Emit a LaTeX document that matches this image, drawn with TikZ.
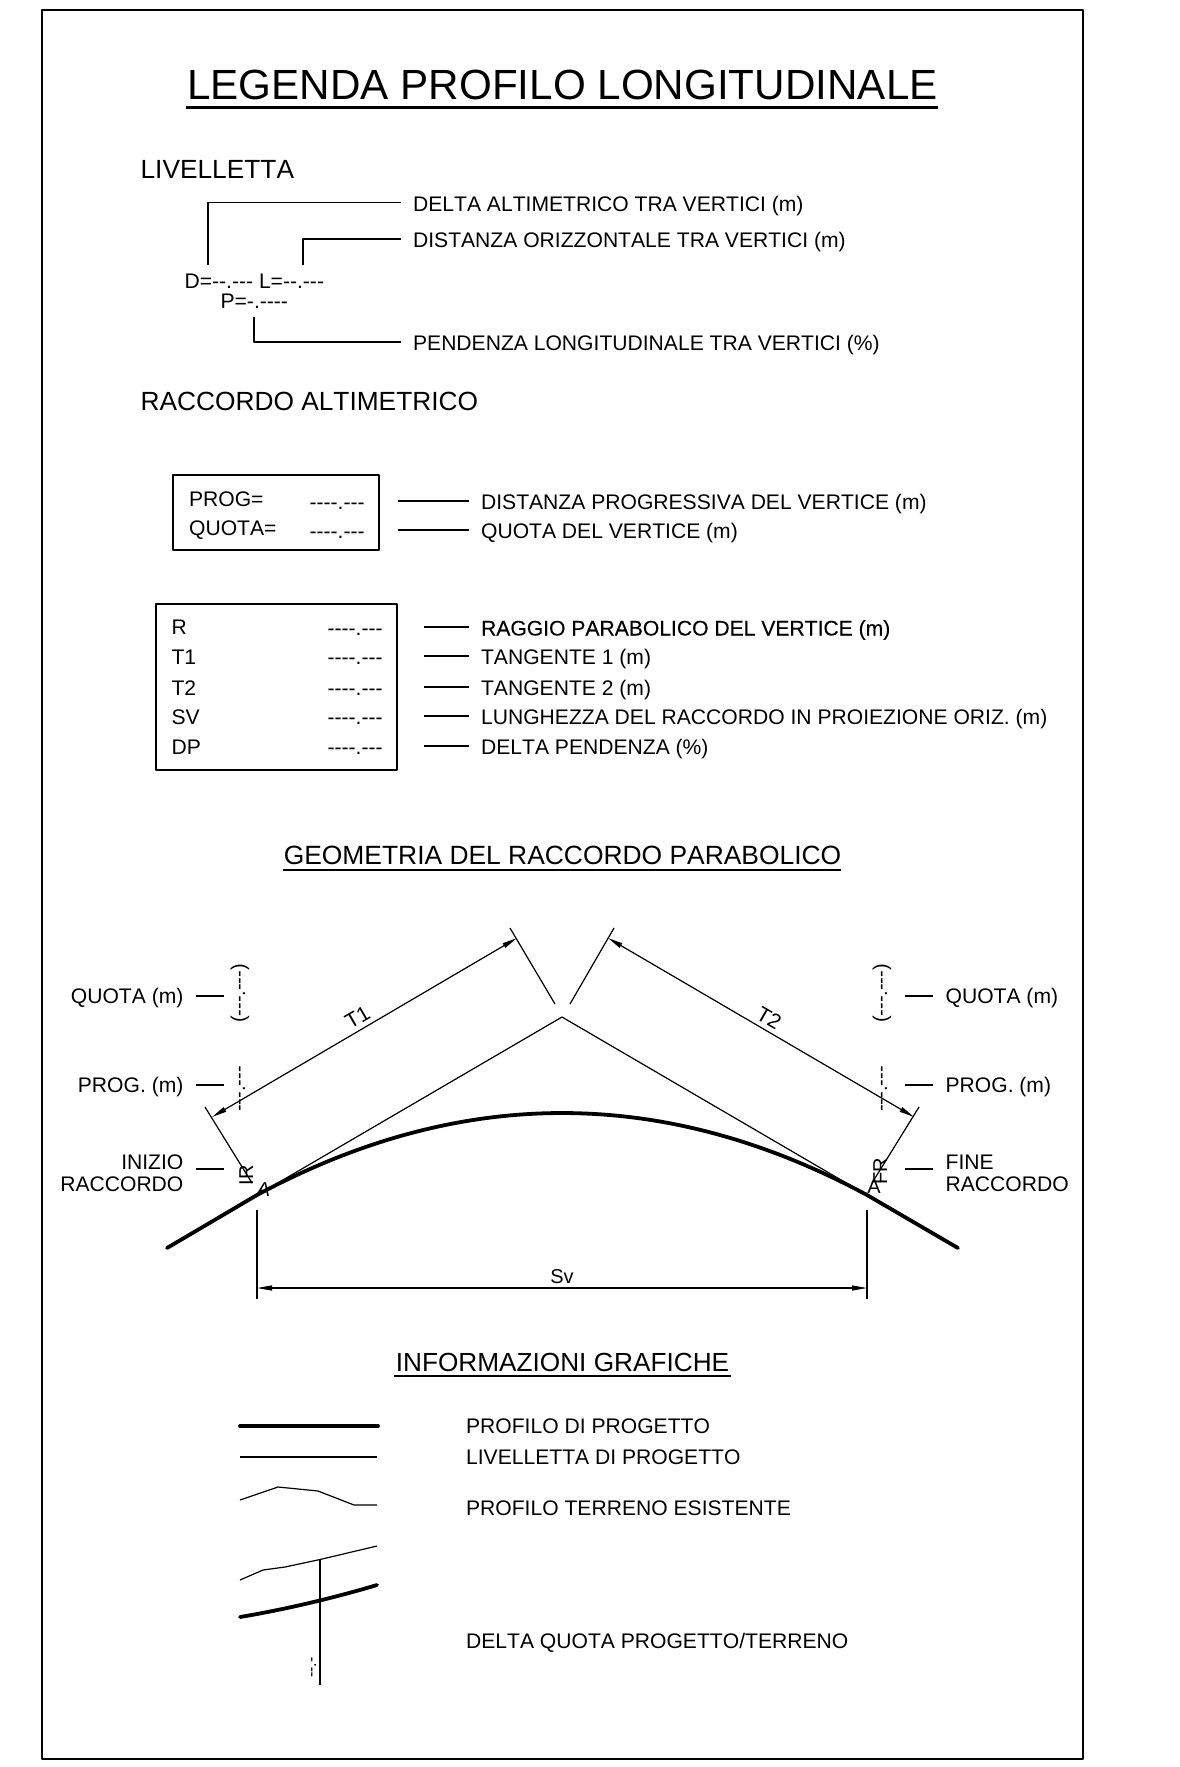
\documentclass[tikz,border=0pt]{standalone}
\usepackage{fontspec}
\setmainfont{Liberation Sans}[Kerning=Off]
\newfontfamily\dashfont{Liberation Sans}[Kerning=Off]
\newfontfamily\raggiofont{Liberation Sans}[FakeBold=0.25,Kerning=Off]
\usetikzlibrary{arrows.meta}
\begin{document}
\begin{tikzpicture}[x=1pt,y=-1pt,line width=1.2pt,line join=round,>={Triangle[length=15pt,width=5pt]},
lab/.style={inner sep=0,anchor=west,text height=17pt,text depth=0pt,font=\fontsize{21.1}{21}\selectfont},
labr/.style={lab,anchor=east},
two/.style={inner sep=0,font=\fontsize{21.1}{22}\selectfont},
small/.style={inner sep=0,anchor=base west,font=\dashfont\fontsize{21.1}{21}\selectfont},
head/.style={inner sep=0,anchor=base,font=\fontsize{26.4}{27}\selectfont},
side/.style={inner sep=0,anchor=base west,font=\fontsize{26.3}{27}\selectfont},
rtext/.style={inner sep=0,anchor=base,rotate=90,font=\dashfont\fontsize{20}{20}\selectfont},
thick line/.style={line width=3.8pt,line cap=round}]
\useasboundingbox (0,0) rectangle (1180,1767);
\draw[line width=1.8pt] (42,10) rectangle (1083,1759);
\node[head,font=\fontsize{42.2}{42}\selectfont] (title) at (562.5,99) {LEGENDA PROFILO LONGITUDINALE};
\draw[line width=2.2pt] (186,107.5) -- (938,107.5);
\node[side] (livelletta) at (140,178) {LIVELLETTA};
\node[side] (raccordo) at (140,410) {RACCORDO ALTIMETRICO};
\foreach \n/\y/\t in {delta/202.5/DELTA ALTIMETRICO TRA VERTICI (m),dist/239/DISTANZA ORIZZONTALE TRA VERTICI (m),pend/342/PENDENZA LONGITUDINALE TRA VERTICI (\%)}{\node[lab] (\n) at (412.5,\y) {\t};}
\node[small] (dl) at (184,288) {D=--.--- L=--.---};
\node[small] (pp) at (220,308) {P=-.----};
\coordinate (dtop) at (208,265);
\coordinate (ltop) at (303,265);
\coordinate (pbot) at (254,317);
\draw ([xshift=-12pt]delta.west) -| (dtop);
\draw ([xshift=-12pt]dist.west) -| (ltop);
\draw ([xshift=-12pt]pend.west) -| (pbot);
\draw (173,475) rectangle (379,550);
\foreach \n/\y/\a/\t in {prog/501/PROG=/DISTANZA PROGRESSIVA DEL VERTICE (m),quota/530/QUOTA=/QUOTA DEL VERTICE (m)}{\node[lab] (\n) at (480.5,\y) {\t};
\node[small] (\n a) at (188.5,\y+5) {\a};
\node[small] (\n b) at (309,\y+8) {----.---};
\draw ([xshift=-12pt]\n.west) -- ++(-71,0);}
\draw (156,604) rectangle (397,770);
\foreach \n/\y/\a/\t in {tone/656/T1/TANGENTE 1 (m),ttwo/687/T2/TANGENTE 2 (m),sv/716/SV/LUNGHEZZA DEL RACCORDO IN PROIEZIONE ORIZ. (m),dp/746/DP/DELTA PENDENZA (\%)}{\node[lab] (\n) at (480.5,\y) {\t};
\node[small] (\n a) at (171,\y+8.5) {\a};
\node[small] (\n b) at (327,\y+8.5) {----.---};
\draw ([xshift=-12pt]\n.west) -- ++(-45,0);}
\node[lab,font=\fontsize{21.1}{21}\raggiofont] (rr) at (480.5,627) {RAGGIO PARABOLICO DEL VERTICE (m)};
\node[small] (rra) at (171,634.5) {R};
\node[small] (rrb) at (327,635.5) {----.---};
\draw[line width=1.6pt] ([xshift=-12pt]rr.west) -- ++(-45,0);
\node[head] (geom) at (562.5,864) {GEOMETRIA DEL RACCORDO PARABOLICO};
\draw[line width=1.8pt] (283,870) -- (841,870);
\coordinate (vtx) at (562,1017);
\coordinate (ia) at (257,1195);
\coordinate (fa) at (867,1195);
\draw (275,1184.6) -- (vtx) -- (849,1184.6);
\draw[thick line] (167,1248) -- (ia) .. controls (460.3,1085.7) and (663.7,1085.7) .. (fa) -- (958,1248);
\draw (510,928) -- (555,1004);
\draw (614,928) -- (570,1004);
\draw (205,1107) -- (252,1183);
\draw (919,1107) -- (872,1183);
\draw[<->] (212,1117) -- node[pos=0.48,above=7pt,xshift=3pt,rotate=30,inner sep=0,font=\fontsize{21}{21}\selectfont] (tua) {T1} (517,938);
\draw[<->] (608,938) -- node[pos=0.52,above=6pt,xshift=-2pt,rotate=-30,inner sep=0,font=\fontsize{21}{21}\selectfont] (tub) {T2} (914,1117);
\draw (257,1210) -- (257,1299);
\draw (867,1210) -- (867,1299);
\draw[<->] (257,1288) -- (867,1288);
\node[head,font=\fontsize{20}{20}\selectfont] (svt) at (562,1283) {Sv};
\node[labr,text height=15pt] (qsx) at (184,996) {QUOTA (m)};
\node[labr,text height=15pt] (psx) at (184,1085) {PROG. (m)};
\node[lab,text height=15pt] (qdx) at (945,996) {QUOTA (m)};
\node[lab,text height=15pt] (pdx) at (945,1085) {PROG. (m)};
\node[two,align=right,anchor=east] (isx) at (184,1173) {INIZIO\\RACCORDO};
\node[two,align=left,anchor=west] (fdx) at (945,1173) {FINE\\RACCORDO};
\foreach \n in {qsx,psx}{\draw ([xshift=12pt]\n.east) -- ++(28,0);}
\foreach \n in {qdx,pdx}{\draw ([xshift=-12pt]\n.west) -- ++(-28,0);}
\draw ([xshift=12pt,yshift=4pt]isx.east) -- ++(28,0);
\draw ([xshift=-12pt,yshift=4pt]fdx.west) -- ++(-28,0);
\foreach \n/\x/\y/\t in {qa/245/993.5/(---.---),pa/245/1089/---.---,qb/887/993.5/(---.---),pb/887/1089/---.---,ir/253/1175/IR,fr/887/1171/FR}{\node[rtext] (\n) at (\x,\y) {\t};}
\node[inner sep=0,rotate=-10,font=\fontsize{19}{19}\selectfont] (asx) at (264,1189) {A};
\node[inner sep=0,font=\fontsize{20}{20}\selectfont] (adx) at (874,1187) {A};
\node[head,font=\fontsize{26.2}{26}\selectfont] (info) at (562.5,1371) {INFORMAZIONI GRAFICHE};
\draw[line width=1.8pt] (394,1376) -- (731,1376);
\foreach \n/\y/\t in {lprog/1433/PROFILO DI PROGETTO,lliv/1464/LIVELLETTA DI PROGETTO,lterr/1515/PROFILO TERRENO ESISTENTE,ldelta/1648/{DELTA QUOTA PROGETTO/TERRENO}}{\node[small] (\n) at (465.5,\y) {\t};}
\draw[thick line] (240,1426) -- (378,1426);
\draw (240,1457) -- (377,1457);
\draw (240,1500) -- (278,1487) -- (318,1491) -- (354,1505) -- (377,1505);
\draw (240,1580) -- (263,1570) -- (285,1567) -- (320,1559.5) -- (377,1546);
\draw[thick line] (240,1617) .. controls (270,1612) and (320,1602) .. (377,1585);
\draw (320,1559.5) -- (320,1685);
\node[rtext,font=\dashfont\fontsize{16}{16}\selectfont] (dq) at (316,1667.5) {--.-};
\end{tikzpicture}
\end{document}
